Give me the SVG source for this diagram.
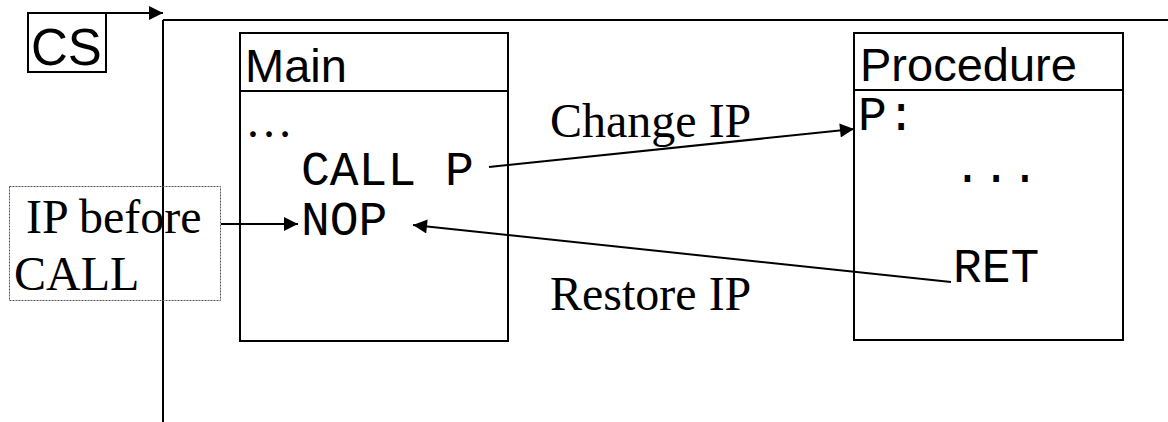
<svg xmlns="http://www.w3.org/2000/svg" width="1168" height="422" viewBox="0 0 1168 422">
<style>
.box{fill:none;stroke:#000;stroke-width:2}
.ln{fill:none;stroke:#000;stroke-width:2}
.sans{font-family:"Liberation Sans",Arial,sans-serif;font-size:47px;fill:#000}
.serif{font-family:"Liberation Serif","Times New Roman",serif;font-size:48px;fill:#000}
.mono{font-family:"Liberation Mono","Courier New",monospace;font-size:48px;fill:#000}
.dot{fill:none;stroke:#555;stroke-width:1;stroke-dasharray:2 1}
</style>
<defs>
<marker id="ah2" viewBox="0 0 10 10" refX="10" refY="5" markerWidth="7.5" markerHeight="7" orient="auto">
<path d="M0,0 L10,5 L0,10 z" fill="#000"/>
</marker>
</defs>
<rect width="1168" height="422" fill="#fff"/>
<g id="segment">
<line class="ln" x1="163" y1="20" x2="163" y2="422"/>
<line class="ln" x1="163" y1="20" x2="1168" y2="20"/>
</g>
<g id="cs">
<rect class="box" x="28" y="13" width="78" height="59"/>
<text class="sans" x="31" y="65" style="font-size:51px">CS</text>
</g>
<g id="main">
<rect class="box" x="240" y="33" width="268" height="308"/>
<line class="ln" x1="240" y1="91" x2="508" y2="91"/>
<text class="sans" x="245" y="82">Main</text>
<text class="serif" x="245" y="137">…</text>
<text class="mono" x="301" y="185">CALL P</text>
<text class="mono" x="301" y="235">NOP</text>
</g>
<g id="procedure">
<rect class="box" x="854" y="33" width="269" height="307"/>
<line class="ln" x1="854" y1="90" x2="1123" y2="90"/>
<text class="sans" x="860" y="81">Procedure</text>
<text class="mono" x="858" y="130">P:</text>
<text class="mono" x="953" y="182">...</text>
<text class="mono" x="953" y="282">RET</text>
</g>
<g id="ipbefore">
<rect class="dot" x="9.5" y="186.5" width="211" height="114"/>
<text class="serif" x="26" y="233">IP before</text>
<text class="serif" x="14" y="290">CALL</text>
</g>
<g id="labels">
<text class="serif" x="550" y="137">Change IP</text>
<text class="serif" x="550" y="310">Restore IP</text>
</g>
<g id="connectors">
<line class="ln" x1="106" y1="13" x2="163" y2="13" marker-end="url(#ah2)"/>
<line class="ln" x1="489" y1="167" x2="854" y2="129" marker-end="url(#ah2)"/>
<line class="ln" x1="951" y1="282" x2="413" y2="225" marker-end="url(#ah2)"/>
<line class="ln" x1="221" y1="224" x2="298" y2="224" marker-end="url(#ah2)"/>
</g>
</svg>
